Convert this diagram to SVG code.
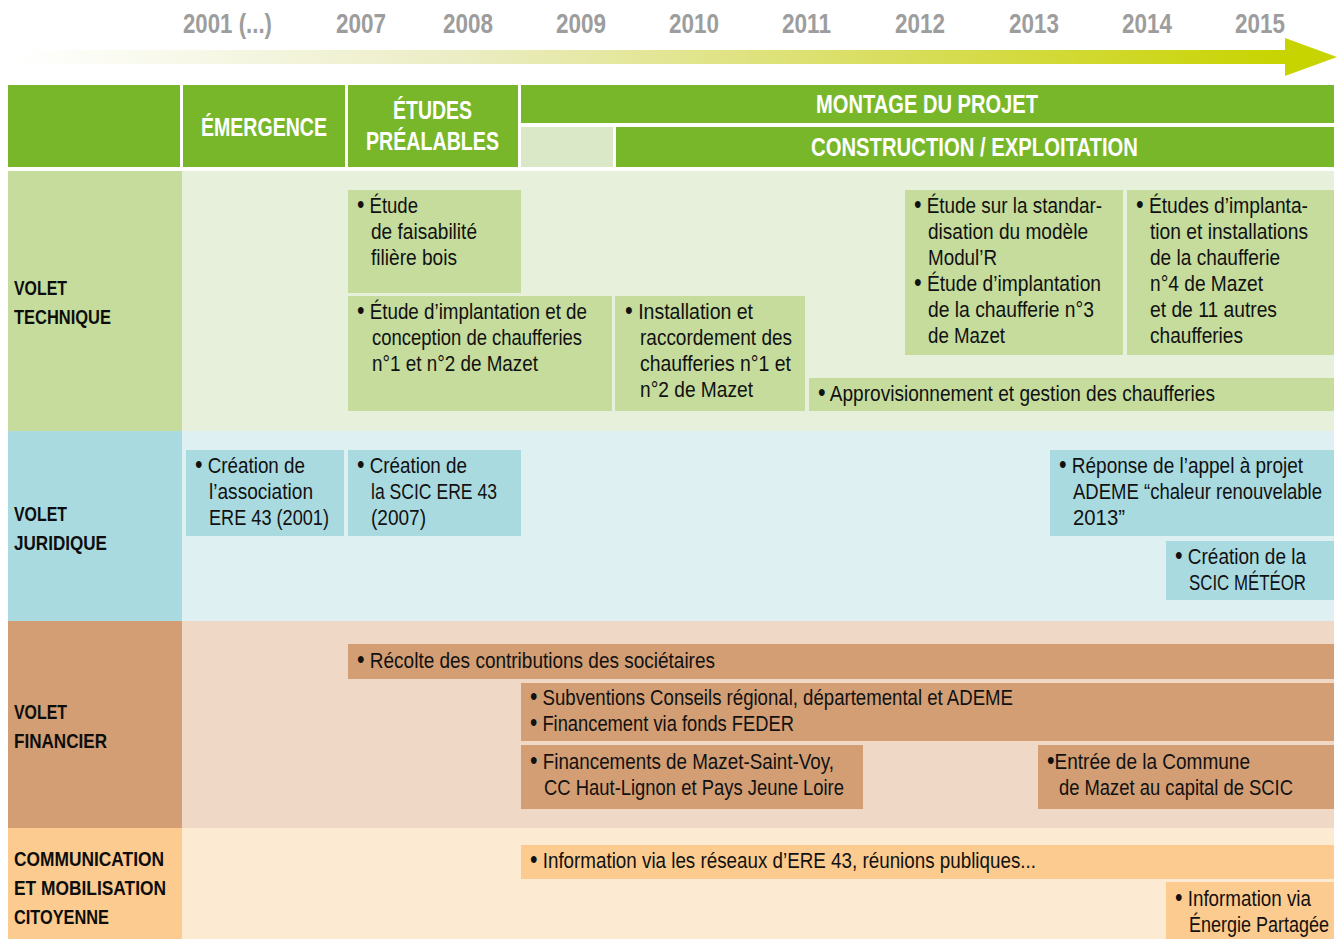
<svg xmlns="http://www.w3.org/2000/svg" width="1341" height="939" viewBox="0 0 1341 939">
<style>
text{font-family:"Liberation Sans","Arial",sans-serif}
.yr{font-size:27px;font-weight:bold;fill:#9d9d9d}
.hd{font-size:26px;font-weight:bold;fill:#ffffff}
.lb{font-size:21px;font-weight:bold;fill:#0d0d0d}
.tx{font-size:22px;fill:#111111}
.b{font-size:25px}
.g{fill:#78b72a}
.tl{fill:#c5dc9d}.tb{fill:#e6f0da}
.jl{fill:#a9dae0}.jb{fill:#dff0f3}
.fl{fill:#d39e74}.fb{fill:#f0d8c6}
.cl{fill:#fccb8f}.cb{fill:#fdead3}
</style>
<defs>
<linearGradient id="arr" x1="0" x2="1" y1="0" y2="0">
<stop offset="0" stop-color="#ffffff"/>
<stop offset="0.35" stop-color="#ebedc4"/>
<stop offset="0.7" stop-color="#d8dd5a"/>
<stop offset="1" stop-color="#c8d400"/>
</linearGradient>
</defs>
<rect width="1341" height="939" fill="#ffffff"/>
<g id="timeline">
<rect x="16" y="50" width="1270" height="14" fill="url(#arr)"/>
<polygon points="1285,38 1337,57 1285,76" fill="#c8d400"/>
<text class="yr" x="183" y="33" textLength="89" lengthAdjust="spacingAndGlyphs">2001 (...)</text>
<text class="yr" x="336" y="33" textLength="50" lengthAdjust="spacingAndGlyphs">2007</text>
<text class="yr" x="443" y="33" textLength="50" lengthAdjust="spacingAndGlyphs">2008</text>
<text class="yr" x="556" y="33" textLength="50" lengthAdjust="spacingAndGlyphs">2009</text>
<text class="yr" x="669" y="33" textLength="50" lengthAdjust="spacingAndGlyphs">2010</text>
<text class="yr" x="782" y="33" textLength="49" lengthAdjust="spacingAndGlyphs">2011</text>
<text class="yr" x="895" y="33" textLength="50" lengthAdjust="spacingAndGlyphs">2012</text>
<text class="yr" x="1009" y="33" textLength="50" lengthAdjust="spacingAndGlyphs">2013</text>
<text class="yr" x="1122" y="33" textLength="50" lengthAdjust="spacingAndGlyphs">2014</text>
<text class="yr" x="1235" y="33" textLength="50" lengthAdjust="spacingAndGlyphs">2015</text>
</g>
<g id="header">
<rect class="g" x="8" y="85" width="172" height="82"/>
<rect class="g" x="183" y="85" width="162" height="82"/>
<rect class="g" x="348" y="85" width="170" height="82"/>
<rect class="g" x="521" y="85" width="813" height="38"/>
<rect x="521" y="127" width="92" height="40" fill="#dbe8c7"/>
<rect class="g" x="616" y="127" width="718" height="40"/>
<text class="hd" x="201" y="136" textLength="126" lengthAdjust="spacingAndGlyphs">ÉMERGENCE</text>
<text class="hd" x="393" y="119" textLength="79" lengthAdjust="spacingAndGlyphs">ÉTUDES</text>
<text class="hd" x="366" y="150" textLength="133" lengthAdjust="spacingAndGlyphs">PRÉALABLES</text>
<text class="hd" x="816" y="113" textLength="222" lengthAdjust="spacingAndGlyphs">MONTAGE DU PROJET</text>
<text class="hd" x="811" y="156" textLength="327" lengthAdjust="spacingAndGlyphs">CONSTRUCTION / EXPLOITATION</text>
</g>
<g id="bands">
<rect class="tl" x="8" y="171" width="174" height="260"/>
<rect class="tb" x="182" y="171" width="1152" height="260"/>
<rect class="jl" x="8" y="431" width="174" height="190"/>
<rect class="jb" x="182" y="431" width="1152" height="190"/>
<rect class="fl" x="8" y="621" width="174" height="207"/>
<rect class="fb" x="182" y="621" width="1152" height="207"/>
<rect class="cl" x="8" y="828" width="174" height="111"/>
<rect class="cb" x="182" y="828" width="1152" height="111"/>
<text class="lb" x="14" y="295" textLength="53" lengthAdjust="spacingAndGlyphs">VOLET</text>
<text class="lb" x="14" y="324" textLength="97" lengthAdjust="spacingAndGlyphs">TECHNIQUE</text>
<text class="lb" x="14" y="521" textLength="53" lengthAdjust="spacingAndGlyphs">VOLET</text>
<text class="lb" x="14" y="550" textLength="93" lengthAdjust="spacingAndGlyphs">JURIDIQUE</text>
<text class="lb" x="14" y="719" textLength="53" lengthAdjust="spacingAndGlyphs">VOLET</text>
<text class="lb" x="14" y="748" textLength="93" lengthAdjust="spacingAndGlyphs">FINANCIER</text>
<text class="lb" x="14" y="866" textLength="150" lengthAdjust="spacingAndGlyphs">COMMUNICATION</text>
<text class="lb" x="14" y="895" textLength="152" lengthAdjust="spacingAndGlyphs">ET MOBILISATION</text>
<text class="lb" x="14" y="924" textLength="95" lengthAdjust="spacingAndGlyphs">CITOYENNE</text>
</g>
<g id="t1">
<rect class="tl" x="348" y="190" width="173" height="103"/>
<text class="tx" x="357" y="213" textLength="61" lengthAdjust="spacingAndGlyphs"><tspan class="b">•</tspan> Étude</text>
<text class="tx" x="371" y="239" textLength="106" lengthAdjust="spacingAndGlyphs">de faisabilité</text>
<text class="tx" x="371" y="265" textLength="86" lengthAdjust="spacingAndGlyphs">filière bois</text>
</g>
<g id="t2">
<rect class="tl" x="348" y="296" width="264" height="115"/>
<text class="tx" x="357" y="319" textLength="230" lengthAdjust="spacingAndGlyphs"><tspan class="b">•</tspan> Étude d’implantation et de</text>
<text class="tx" x="372" y="345" textLength="210" lengthAdjust="spacingAndGlyphs">conception de chaufferies</text>
<text class="tx" x="372" y="371" textLength="166" lengthAdjust="spacingAndGlyphs">n°1 et n°2 de Mazet</text>
</g>
<g id="t3">
<rect class="tl" x="615" y="296" width="190" height="115"/>
<text class="tx" x="625" y="319" textLength="128" lengthAdjust="spacingAndGlyphs"><tspan class="b">•</tspan> Installation et</text>
<text class="tx" x="640" y="345" textLength="152" lengthAdjust="spacingAndGlyphs">raccordement des</text>
<text class="tx" x="640" y="371" textLength="151" lengthAdjust="spacingAndGlyphs">chaufferies n°1 et</text>
<text class="tx" x="640" y="397" textLength="113" lengthAdjust="spacingAndGlyphs">n°2 de Mazet</text>
</g>
<g id="t4">
<rect class="tl" x="905" y="190" width="218" height="165"/>
<text class="tx" x="914" y="213" textLength="188" lengthAdjust="spacingAndGlyphs"><tspan class="b">•</tspan> Étude sur la standar-</text>
<text class="tx" x="928" y="239" textLength="160" lengthAdjust="spacingAndGlyphs">disation du modèle</text>
<text class="tx" x="928" y="265" textLength="69" lengthAdjust="spacingAndGlyphs">Modul’R</text>
<text class="tx" x="914" y="291" textLength="187" lengthAdjust="spacingAndGlyphs"><tspan class="b">•</tspan> Étude d’implantation</text>
<text class="tx" x="928" y="317" textLength="166" lengthAdjust="spacingAndGlyphs">de la chaufferie n°3</text>
<text class="tx" x="928" y="343" textLength="77" lengthAdjust="spacingAndGlyphs">de Mazet</text>
</g>
<g id="t5">
<rect class="tl" x="1127" y="190" width="207" height="165"/>
<text class="tx" x="1136" y="213" textLength="172" lengthAdjust="spacingAndGlyphs"><tspan class="b">•</tspan> Études d’implanta-</text>
<text class="tx" x="1150" y="239" textLength="158" lengthAdjust="spacingAndGlyphs">tion et installations</text>
<text class="tx" x="1150" y="265" textLength="130" lengthAdjust="spacingAndGlyphs">de la chaufferie</text>
<text class="tx" x="1150" y="291" textLength="113" lengthAdjust="spacingAndGlyphs">n°4 de Mazet</text>
<text class="tx" x="1150" y="317" textLength="127" lengthAdjust="spacingAndGlyphs">et de 11 autres</text>
<text class="tx" x="1150" y="343" textLength="93" lengthAdjust="spacingAndGlyphs">chaufferies</text>
</g>
<g id="t6">
<rect class="tl" x="809" y="378" width="525" height="33"/>
<text class="tx" x="818" y="401" textLength="397" lengthAdjust="spacingAndGlyphs"><tspan class="b">•</tspan> Approvisionnement et gestion des chaufferies</text>
</g>
<g id="j1">
<rect class="jl" x="186" y="450" width="158" height="86"/>
<text class="tx" x="195" y="473" textLength="110" lengthAdjust="spacingAndGlyphs"><tspan class="b">•</tspan> Création de</text>
<text class="tx" x="209" y="499" textLength="104" lengthAdjust="spacingAndGlyphs">l’association</text>
<text class="tx" x="209" y="525" textLength="120" lengthAdjust="spacingAndGlyphs">ERE 43 (2001)</text>
</g>
<g id="j2">
<rect class="jl" x="348" y="450" width="173" height="86"/>
<text class="tx" x="357" y="473" textLength="110" lengthAdjust="spacingAndGlyphs"><tspan class="b">•</tspan> Création de</text>
<text class="tx" x="371" y="499" textLength="126" lengthAdjust="spacingAndGlyphs">la SCIC ERE 43</text>
<text class="tx" x="371" y="525" textLength="55" lengthAdjust="spacingAndGlyphs">(2007)</text>
</g>
<g id="j3">
<rect class="jl" x="1050" y="450" width="284" height="86"/>
<text class="tx" x="1059" y="473" textLength="244" lengthAdjust="spacingAndGlyphs"><tspan class="b">•</tspan> Réponse de l’appel à projet</text>
<text class="tx" x="1073" y="499" textLength="249" lengthAdjust="spacingAndGlyphs">ADEME “chaleur renouvelable</text>
<text class="tx" x="1073" y="525" textLength="52" lengthAdjust="spacingAndGlyphs">2013”</text>
</g>
<g id="j4">
<rect class="jl" x="1166" y="541" width="168" height="59"/>
<text class="tx" x="1175" y="564" textLength="131" lengthAdjust="spacingAndGlyphs"><tspan class="b">•</tspan> Création de la</text>
<text class="tx" x="1189" y="590" textLength="117" lengthAdjust="spacingAndGlyphs">SCIC MÉTÉOR</text>
</g>
<g id="f1">
<rect class="fl" x="348" y="644" width="986" height="35"/>
<text class="tx" x="357" y="668" textLength="358" lengthAdjust="spacingAndGlyphs"><tspan class="b">•</tspan> Récolte des contributions des sociétaires</text>
</g>
<g id="f2">
<rect class="fl" x="521" y="683" width="813" height="58"/>
<text class="tx" x="530" y="705" textLength="483" lengthAdjust="spacingAndGlyphs"><tspan class="b">•</tspan> Subventions Conseils régional, départemental et ADEME</text>
<text class="tx" x="530" y="731" textLength="264" lengthAdjust="spacingAndGlyphs"><tspan class="b">•</tspan> Financement via fonds FEDER</text>
</g>
<g id="f3">
<rect class="fl" x="521" y="745" width="342" height="64"/>
<text class="tx" x="530" y="769" textLength="304" lengthAdjust="spacingAndGlyphs"><tspan class="b">•</tspan> Financements de Mazet-Saint-Voy,</text>
<text class="tx" x="544" y="795" textLength="300" lengthAdjust="spacingAndGlyphs">CC Haut-Lignon et Pays Jeune Loire</text>
</g>
<g id="f4">
<rect class="fl" x="1038" y="745" width="296" height="64"/>
<text class="tx" x="1047" y="769" textLength="203" lengthAdjust="spacingAndGlyphs"><tspan class="b">•</tspan>Entrée de la Commune</text>
<text class="tx" x="1059" y="795" textLength="234" lengthAdjust="spacingAndGlyphs">de Mazet au capital de SCIC</text>
</g>
<g id="c1">
<rect class="cl" x="521" y="845" width="813" height="34"/>
<text class="tx" x="530" y="868" textLength="506" lengthAdjust="spacingAndGlyphs"><tspan class="b">•</tspan> Information via les réseaux d’ERE 43, réunions publiques...</text>
</g>
<g id="c2">
<rect class="cl" x="1166" y="882" width="168" height="57"/>
<text class="tx" x="1175" y="906" textLength="136" lengthAdjust="spacingAndGlyphs"><tspan class="b">•</tspan> Information via</text>
<text class="tx" x="1189" y="932" textLength="140" lengthAdjust="spacingAndGlyphs">Énergie Partagée</text>
</g>
<g id="connectors"></g>
</svg>
